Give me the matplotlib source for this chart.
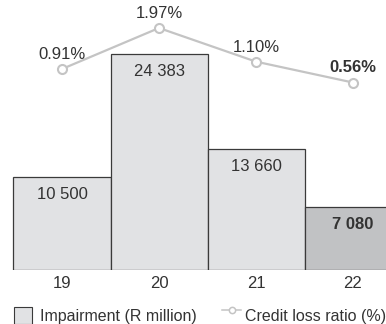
import matplotlib
matplotlib.use("Agg")
import matplotlib.pyplot as plt
from matplotlib.patches import Rectangle
from matplotlib.lines import Line2D

plt.rcParams['font.family'] = ['Liberation Sans', 'DejaVu Sans']

years = ["19", "20", "21", "22"]
impairment = [10500, 24383, 13660, 7080]
impairment_labels = ["10 500", "24 383", "13 660", "7 080"]
credit_loss_ratio = [0.91, 1.97, 1.10, 0.56]
ratio_labels = ["0.91%", "1.97%", "1.10%", "0.56%"]

W, H = 386, 324
fig = plt.figure(figsize=(W / 100, H / 100), dpi=100)

text_col = "#333333"
bar_face = ["#e1e2e4", "#e1e2e4", "#e1e2e4", "#c1c2c4"]
edge_col = "#3a3a3a"
line_col = "#c4c4c4"
fs = 12

base_px = 270
ax = fig.add_axes([0, (H - base_px) / H, 1, base_px / H])
x = list(range(len(years)))
ax.bar(x, impairment, width=1.0, color=bar_face, edgecolor=edge_col,
       linewidth=0.9, zorder=2)
ax.set_xlim(-62 / 97, (W - 62) / 97)
ax.set_ylim(0, base_px / 0.008859)
for s in ax.spines.values():
    s.set_visible(False)
ax.set_yticks([])
ax.set_xticks(x)
ax.set_xticklabels(years, fontsize=fs, color=text_col)
ax.tick_params(axis='x', length=0, pad=4.5)

for i, (v, lab) in enumerate(zip(impairment, impairment_labels)):
    ax.annotate(lab, (i, v), xytext=(0, -12.5), textcoords="offset points",
                ha="center", va="center", fontsize=fs, color=text_col,
                fontweight="bold" if i == len(years) - 1 else "normal",
                zorder=5)

ax2 = ax.twinx()
ax2.set_ylim(-165.8 / 38.68, (base_px - 165.8) / 38.68)
ax2.set_yticks([])
for s in ax2.spines.values():
    s.set_visible(False)
ax2.plot(x, credit_loss_ratio, color=line_col, linewidth=1.6,
         marker="o", markersize=6.5, markerfacecolor="white",
         markeredgecolor=line_col, markeredgewidth=1.5, zorder=3)
for i, (v, lab) in enumerate(zip(credit_loss_ratio, ratio_labels)):
    ax2.annotate(lab, (i, v), xytext=(0, 10.5), textcoords="offset points",
                 ha="center", va="center", fontsize=fs, color=text_col,
                 fontweight="bold" if i == len(years) - 1 else "normal")

# Legend drawn in figure pixel space
fig.patches.append(Rectangle((14 / W, (H - 324) / H), 18 / W, 17 / H,
                             transform=fig.transFigure, facecolor="#e1e2e4",
                             edgecolor=edge_col, linewidth=0.8))
fig.text(40 / W, (H - 316) / H, "Impairment (R million)", fontsize=11.5,
         color=text_col, ha="left", va="center")
fig.lines.append(Line2D([222 / W, 241 / W], [(H - 310) / H, (H - 310) / H],
                        transform=fig.transFigure, color=line_col,
                        linewidth=1.1))
fig.lines.append(Line2D([232 / W], [(H - 310) / H], transform=fig.transFigure,
                        marker="o", markersize=4.5, markerfacecolor="white",
                        markeredgecolor=line_col, markeredgewidth=1.1,
                        linestyle="none"))
fig.text(245 / W, (H - 316) / H, "Credit loss ratio (%)", fontsize=11.5,
         color=text_col, ha="left", va="center")

fig.savefig("out.png", dpi=100)
